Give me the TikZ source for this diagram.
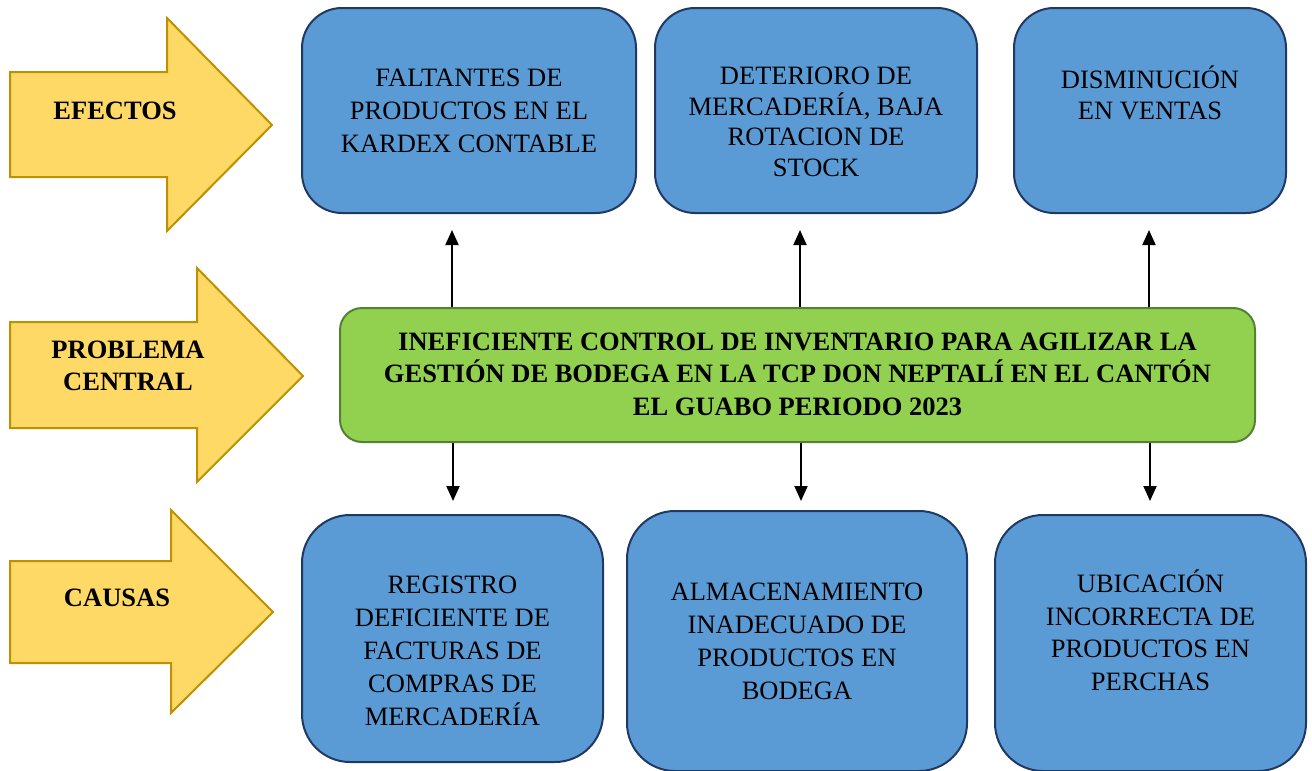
\documentclass[tikz,border=0pt]{standalone}
\usepackage{fontspec}
\setmainfont{Liberation Serif}
\usetikzlibrary{arrows.meta}

\definecolor{azulcaja}{RGB}{91,155,213}
\definecolor{bordeazul}{RGB}{32,56,100}
\definecolor{verdecaja}{RGB}{146,208,80}
\definecolor{bordeverde}{RGB}{84,130,53}
\definecolor{amarillo}{RGB}{255,217,102}
\definecolor{bordeamarillo}{RGB}{191,144,0}

\begin{document}
\begin{tikzpicture}[x=1pt,y=-1pt,
  caja/.style={draw=bordeazul,fill=azulcaja,line width=2pt,rounded corners=40pt,inner sep=0pt},
  cajaverde/.style={draw=bordeverde,fill=verdecaja,line width=2pt,rounded corners=22pt,inner sep=0pt},
  flechaama/.style={draw=bordeamarillo,fill=amarillo,line width=2pt},
  texto/.style={align=center,font=\fontsize{26.5}{33}\selectfont},
  negrita/.style={align=center,font=\fontsize{26.5}{32.5}\selectfont\bfseries},
  flecha/.style={line width=2pt,-{Triangle[length=15pt,width=13pt]}}]
\useasboundingbox (0,0) rectangle (1312,771);

% flechas amarillas
\draw[flechaama] (10,72) -- (167,72) -- (167,18) -- (272,125) -- (167,231) -- (167,177) -- (10,177) -- cycle;
\draw[flechaama] (10,322) -- (197,322) -- (197,268) -- (303,376) -- (197,482) -- (197,428) -- (10,428) -- cycle;
\draw[flechaama] (10,561) -- (171,561) -- (171,510) -- (273,612) -- (171,713) -- (171,663) -- (10,663) -- cycle;
\node[negrita] (efectos) at (115,111) {EFECTOS};
\node[negrita] (problema) at (128,366) {PROBLEMA\\CENTRAL};
\node[negrita] (causas) at (117,598) {CAUSAS};

% efectos
\node[caja,minimum width=334pt,minimum height=205pt] (ef1) at (469,110.5) {};
\node[texto] (tef1) at (469,111) {FALTANTES DE\\PRODUCTOS EN EL\\KARDEX CONTABLE};
\node[caja,minimum width=322pt,minimum height=205pt] (ef2) at (816,110.5) {};
\node[texto,font=\fontsize{26.5}{30.5}\selectfont] (tef2) at (816,122) {DETERIORO DE\\MERCADERÍA, BAJA\\ROTACION DE\\STOCK};
\node[caja,minimum width=272pt,minimum height=205pt] (ef3) at (1150,110.5) {};
\node[texto,font=\fontsize{26.5}{31}\selectfont] (tef3) at (1150,93) {DISMINUCIÓN\\EN VENTAS};

% problema central
\node[cajaverde,minimum width=915pt,minimum height=134pt] (central) at (797.5,375) {};
\node[negrita] (tcentral) at (797.5,374) {INEFICIENTE CONTROL DE INVENTARIO PARA AGILIZAR LA\\GESTIÓN DE BODEGA EN LA TCP DON NEPTALÍ EN EL CANTÓN\\EL GUABO PERIODO 2023};

% causas
\node[caja,rounded corners=48pt,minimum width=301pt,minimum height=247pt] (ca1) at (452.5,638.5) {};
\node[texto] (tca1) at (452.5,651) {REGISTRO\\DEFICIENTE DE\\FACTURAS DE\\COMPRAS DE\\MERCADERÍA};
\node[caja,rounded corners=48pt,minimum width=340pt,minimum height=260pt] (ca2) at (797,641) {};
\node[texto] (tca2) at (797,641) {ALMACENAMIENTO\\INADECUADO DE\\PRODUCTOS EN\\BODEGA};
\node[caja,rounded corners=48pt,minimum width=311pt,minimum height=256pt] (ca3) at (1150.5,643) {};
\node[texto,font=\fontsize{26.5}{32.5}\selectfont] (tca3) at (1150.5,630) {UBICACIÓN\\INCORRECTA DE\\PRODUCTOS EN\\PERCHAS};

% conectores
\coordinate (a1) at (452,230);
\coordinate (a2) at (800,230);
\coordinate (a3) at (1149,230);
\coordinate (b1) at (453,501);
\coordinate (b2) at (801,501);
\coordinate (b3) at (1150,501);
\draw[flecha] (central.north -| a1) -- (a1);
\draw[flecha] (central.north -| a2) -- (a2);
\draw[flecha] (central.north -| a3) -- (a3);
\draw[flecha] (central.south -| b1) -- (b1);
\draw[flecha] (central.south -| b2) -- (b2);
\draw[flecha] (central.south -| b3) -- (b3);
\end{tikzpicture}
\end{document}
